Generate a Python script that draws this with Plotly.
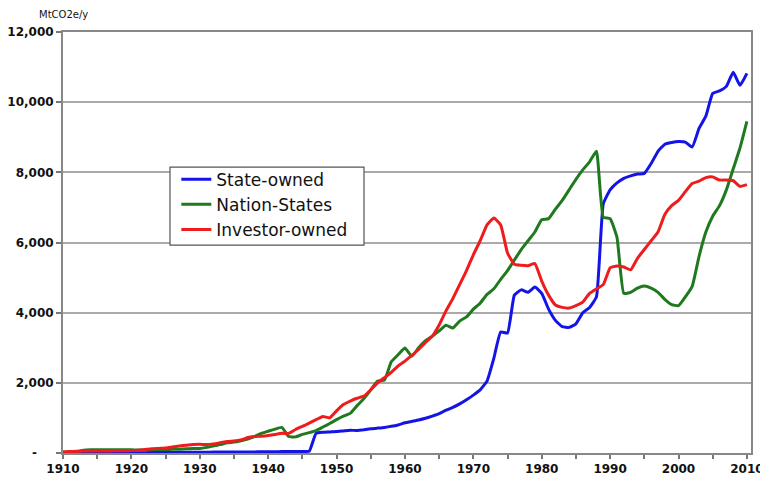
import plotly.graph_objects as go

years = list(range(1910, 2011))

state_owned = [
    5, 5, 5, 5, 5, 10, 10, 10, 10, 10,
    10, 10, 10, 15, 15, 15, 15, 20, 20, 20,
    20, 20, 25, 25, 25, 30, 30, 30, 30, 35,
    35, 35, 40, 40, 40, 45, 50, 560, 590, 600,
    610, 630, 650, 640, 660, 690, 710, 730, 760, 800,
    860, 900, 940, 990, 1050, 1120, 1220, 1300, 1400, 1520,
    1650, 1800, 2050, 2700, 3450, 3420, 4500, 4650, 4580, 4730,
    4550, 4100, 3780, 3600, 3580, 3680, 4000, 4150, 4450, 7100,
    7500, 7700, 7830, 7900, 7950, 7970, 8250, 8600, 8800, 8850,
    8880, 8860, 8720, 9250, 9600, 10250, 10320, 10450, 10850, 10480,
    10820,
]

nation_states = [
    20, 30, 40, 80, 90, 90, 90, 90, 90, 90,
    90, 85, 90, 95, 100, 100, 105, 110, 120, 125,
    130, 160, 200, 240, 290, 310, 350, 400, 470, 560,
    620, 680, 730, 470, 460, 530, 580, 640, 740, 840,
    950, 1050, 1130, 1350, 1550, 1800, 2050, 2080, 2600, 2800,
    2990, 2760, 3000, 3200, 3330, 3480, 3640, 3560, 3760, 3880,
    4100, 4270, 4520, 4680, 4950, 5200, 5500, 5800, 6050, 6300,
    6650, 6680, 6950, 7200, 7500, 7800, 8070, 8300, 8600, 6720,
    6680, 6150, 4550, 4580, 4700, 4760, 4700, 4580, 4380, 4230,
    4200, 4450, 4750, 5600, 6300, 6750, 7050, 7500, 8100, 8700,
    9450,
]

investor_owned = [
    30, 40, 50, 55, 60, 60, 60, 60, 65, 65,
    70, 80, 100, 120, 130, 140, 170, 200, 220, 240,
    250, 240, 260, 290, 330, 340, 370, 440, 470, 480,
    500, 530, 560, 560, 670, 760, 850, 950, 1040, 1000,
    1200, 1380, 1480, 1560, 1620, 1800, 2000, 2150, 2300, 2480,
    2620, 2780, 2950, 3150, 3330, 3650, 4050, 4400, 4800, 5200,
    5650, 6050, 6500, 6700, 6500, 5700, 5380, 5350, 5340, 5400,
    4900, 4500, 4220, 4150, 4130, 4200, 4300, 4550, 4680, 4800,
    5280, 5330, 5300, 5220, 5550, 5800, 6050, 6300, 6800, 7050,
    7200, 7450, 7680, 7750, 7850, 7870, 7780, 7780, 7760, 7600,
    7650,
]

y_tickvals = [0, 2000, 4000, 6000, 8000, 10000, 12000]
y_ticktext = ["-\u00a0\u00a0\u00a0\u00a0", "2,000", "4,000", "6,000", "8,000", "10,000", "12,000"]
x_tickvals = list(range(1910, 2011, 10))

series = [
    ("State-owned", state_owned, "#1414e6"),
    ("Nation-States", nation_states, "#1f7a1f"),
    ("Investor-owned", investor_owned, "#ee1c1c"),
]

fig = go.Figure()
for name, vals, col in series:
    fig.add_trace(go.Scatter(
        x=years, y=vals, mode="lines", name=name,
        line=dict(color=col, width=3, shape="spline", smoothing=0.4),
    ))

tickfont = dict(size=12, family="DejaVu Sans", color="#111111", weight="bold")

# page body has an 8px margin, so the figure is 8px smaller than the window
fig.update_layout(
    width=760, height=475,
    margin=dict(l=55, r=17, t=24, b=30, autoexpand=False),
    paper_bgcolor="white", plot_bgcolor="white",
    font=dict(family="DejaVu Sans", color="#111111"),
    showlegend=True,
    legend=dict(
        x=0.1647, y=0.692, xanchor="left", yanchor="top",
        bgcolor="rgba(0,0,0,0)", borderwidth=0,
        font=dict(size=17, family="DejaVu Sans", color="#111111"),
        itemwidth=30, tracegroupgap=0,
    ),
    shapes=[dict(
        type="rect", xref="paper", yref="paper",
        x0=0.1555, x1=0.4375, y0=0.494, y1=0.679,
        fillcolor="white", line=dict(color="#555555", width=1.2),
        layer="above",
    )],
    annotations=[dict(
        text="MtCO2e/y", xref="paper", yref="paper",
        x=(37 - 63) / 688, y=(453 - 14) / 421,
        xanchor="left", yanchor="middle",
        showarrow=False, font=dict(size=10, family="DejaVu Sans"),
    )],
)

fig.update_xaxes(
    range=[1910, 2010.6], tickvals=x_tickvals,
    ticks="outside", ticklen=4, tickcolor="#777777", tickwidth=1.5,
    minor=dict(dtick=5, tick0=1910, ticks="outside", ticklen=4,
               tickcolor="#777777", tickwidth=1.5),
    showline=True, linecolor="#888888", linewidth=2, mirror=True,
    showgrid=False, zeroline=False,
    tickfont=tickfont,
)
fig.update_yaxes(
    range=[0, 12000], tickvals=y_tickvals, ticktext=y_ticktext,
    ticks="outside", ticklen=5, tickcolor="#777777", tickwidth=1.5,
    showline=True, linecolor="#888888", linewidth=2, mirror=True,
    showgrid=True, gridcolor="#aaaaaa", gridwidth=1.5, zeroline=False,
    tickfont=tickfont,
    ticklabelstandoff=0,
)

fig.write_html("out.html")
